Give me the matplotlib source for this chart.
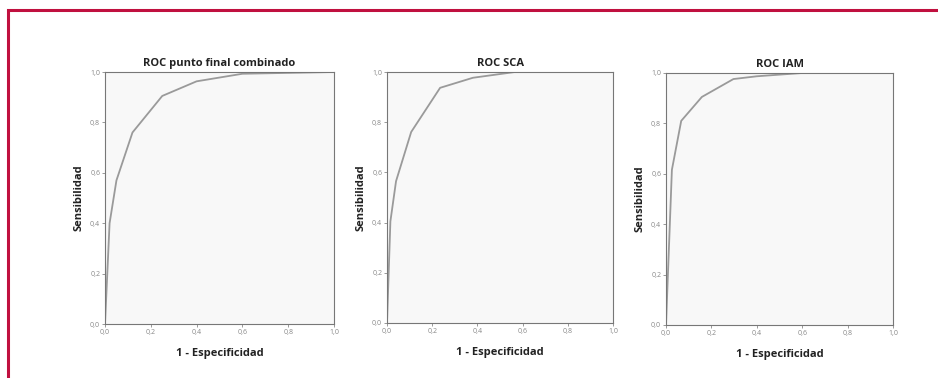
import matplotlib
matplotlib.use("Agg")
import matplotlib.pyplot as plt
from matplotlib.patches import Rectangle

# datos
titles = ["ROC punto final combinado", "ROC SCA", "ROC IAM"]
fpr_comb = [0.0, 0.02, 0.05, 0.12, 0.25, 0.40, 0.60, 1.0]
tpr_comb = [0.0, 0.40, 0.57, 0.76, 0.905, 0.963, 0.993, 1.0]
fpr_sca = [0.0, 0.015, 0.04, 0.107, 0.235, 0.38, 0.566, 1.0]
tpr_sca = [0.0, 0.405, 0.565, 0.761, 0.937, 0.977, 1.0, 1.0]
fpr_iam = [0.0, 0.026, 0.067, 0.158, 0.297, 0.40, 0.60, 1.0]
tpr_iam = [0.0, 0.616, 0.81, 0.905, 0.976, 0.987, 1.0, 1.0]
ticks = [0.0, 0.2, 0.4, 0.6, 0.8, 1.0]
tick_labels = ["0,0", "0,2", "0,4", "0,6", "0,8", "1,0"]

curves = [(fpr_comb, tpr_comb), (fpr_sca, tpr_sca), (fpr_iam, tpr_iam)]

W, H = 938, 378
fig = plt.figure(figsize=(W / 100, H / 100), dpi=100)
plt.rcParams['font.family'] = ['Open Sans', 'DejaVu Sans']

# marco rojo
fig.patches.append(Rectangle((8 / W, -0.05), 1.2, (H - 10) / H + 0.05,
                             transform=fig.transFigure, fill=False,
                             edgecolor="#c0103f", linewidth=2.2))

# left, right, top, bottom in px
boxes = [(105, 334, 72, 324), (387, 613, 72, 323), (666, 893, 73, 325)]

for (l, r, t, b), title, (x, y) in zip(boxes, titles, curves):
    ax = fig.add_axes([l / W, 1 - b / H, (r - l) / W, (b - t) / H])
    ax.set_facecolor("#f8f8f8")
    ax.plot(x, y, color="#9a9a9a", linewidth=1.3)
    ax.set_xlim(0, 1)
    ax.set_ylim(0, 1)
    ax.set_xticks(ticks)
    ax.set_xticklabels(tick_labels)
    ax.set_yticks(ticks)
    ax.set_yticklabels(tick_labels)
    ax.tick_params(labelsize=5, colors="#888888", length=2, width=0.6, pad=1.5)
    for s in ax.spines.values():
        s.set_color("#777777")
        s.set_linewidth(0.8)
    ax.set_title(title, fontsize=8, fontweight="bold", color="#222222", pad=4)
    ax.set_xlabel("1 - Especificidad", fontsize=8, fontweight="bold", color="#222222", labelpad=9)
    ax.set_ylabel("Sensibilidad", fontsize=8, fontweight="bold", color="#222222", labelpad=4)

fig.savefig("out.png", dpi=100)
